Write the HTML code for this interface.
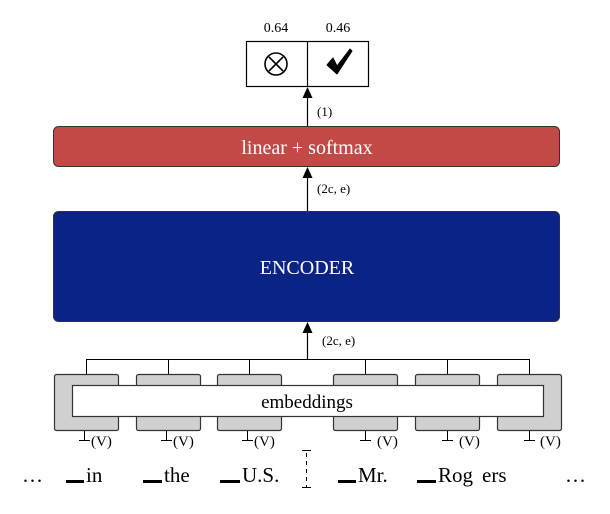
<!DOCTYPE html>
<html><head><meta charset="utf-8"><style>
html,body{margin:0;padding:0;background:#fff;}
svg{display:block;font-family:"Liberation Serif","DejaVu Serif",serif;}
</style></head><body>
<svg width="610" height="514" viewBox="0 0 610 514" xmlns="http://www.w3.org/2000/svg">
<!-- output -->
<text x="276" y="32" font-size="14" text-anchor="middle">0.64</text>
<text x="338" y="32" font-size="14" text-anchor="middle">0.46</text>
<rect x="246.5" y="41.5" width="122" height="45" fill="#fff" stroke="#000" stroke-width="1.2"/>
<line x1="307.5" y1="41" x2="307.5" y2="87" stroke="#000" stroke-width="1.2"/>
<circle cx="276" cy="64" r="11" fill="none" stroke="#000" stroke-width="1.6"/>
<path d="M269,57 L283,71 M283,57 L269,71" stroke="#000" stroke-width="1.6"/>
<path d="M327,65 L333,58 L337,66 L350,49 L352,51 L337,74 Z" fill="#000" stroke="#000" stroke-width="1" stroke-linejoin="round"/>
<line x1="307.5" y1="126" x2="307.5" y2="96" stroke="#000" stroke-width="1.2"/>
<path d="M302.5,98 L307.5,87 L312.5,98 Z" fill="#000"/>
<text x="317" y="116" font-size="13">(1)</text>
<!-- linear -->
<rect x="53.5" y="126.5" width="506" height="40" rx="5" fill="#c24a46" stroke="#333"/>
<text x="307" y="154" font-size="20" fill="#fff" text-anchor="middle">linear + softmax</text>
<line x1="307.5" y1="211" x2="307.5" y2="176" stroke="#000" stroke-width="1.2"/>
<path d="M302.5,178 L307.5,167 L312.5,178 Z" fill="#000"/>
<text x="317" y="193" font-size="13">(2c, e)</text>
<!-- encoder -->
<rect x="53.5" y="211.5" width="506" height="110" rx="5" fill="#0a2385" stroke="#333"/>
<text x="307" y="274" font-size="20" fill="#fff" text-anchor="middle">ENCODER</text>
<line x1="307.5" y1="359" x2="307.5" y2="331" stroke="#000" stroke-width="1.2"/>
<path d="M302.5,333 L307.5,322 L312.5,333 Z" fill="#000"/>
<text x="322" y="345" font-size="13">(2c, e)</text>
<!-- bus -->
<path d="M86.5,374 V359.5 H529.5 V374 M168.5,359.5 V374 M249.5,359.5 V374 M365.5,359.5 V374 M447.5,359.5 V374" fill="none" stroke="#000" stroke-width="1"/>
<g fill="#d0d0d0" stroke="#333" stroke-width="1.2">
<rect x="54.5" y="374.5" width="64" height="56" rx="2"/>
<rect x="136.5" y="374.5" width="64" height="56" rx="2"/>
<rect x="217.5" y="374.5" width="64" height="56" rx="2"/>
<rect x="333.5" y="374.5" width="64" height="56" rx="2"/>
<rect x="415.5" y="374.5" width="64" height="56" rx="2"/>
<rect x="497.5" y="374.5" width="64" height="56" rx="2"/>
</g>
<rect x="72.5" y="385.5" width="471" height="31" fill="#fff" stroke="#333" stroke-width="1.2"/>
<text x="307" y="408" font-size="19" text-anchor="middle">embeddings</text>
<!-- ticks -->
<g stroke="#000" stroke-width="1">
<path d="M84.5,431 V440 M79,440.5 H90"/>
<path d="M166.5,431 V440 M161,440.5 H172"/>
<path d="M247.5,431 V440 M242,440.5 H253"/>
<path d="M365.5,431 V440 M360,440.5 H371"/>
<path d="M447.5,431 V440 M442,440.5 H453"/>
<path d="M529.5,431 V440 M524,440.5 H535"/>
<path d="M306.5,450 V488 M302,450.5 H311 M302,487.5 H311"/>
</g>
<line x1="306.5" y1="451" x2="306.5" y2="487" stroke="#fff" stroke-width="2" stroke-dasharray="4,4" stroke-dashoffset="2"/>
<g font-size="15">
<text x="91" y="446">(V)</text><text x="173" y="446">(V)</text><text x="254" y="446">(V)</text>
<text x="377" y="446">(V)</text><text x="459" y="446">(V)</text><text x="540" y="446">(V)</text>
</g>
<g fill="#000">
<rect x="66" y="480" width="18" height="3"/>
<rect x="143" y="480" width="19" height="3"/>
<rect x="220" y="480" width="20" height="3"/>
<rect x="338" y="480" width="18" height="3"/>
<rect x="417" y="480" width="19" height="3"/>
</g>
<g font-size="21">
<text x="22" y="482">…</text>
<text x="86" y="482">in</text>
<text x="164" y="482">the</text>
<text x="242" y="482">U.S.</text>
<text x="358" y="482">Mr.</text>
<text x="438" y="482">Rog</text>
<text x="482" y="482">ers</text>
<text x="565" y="482">…</text>
</g>
</svg>
</body></html>
